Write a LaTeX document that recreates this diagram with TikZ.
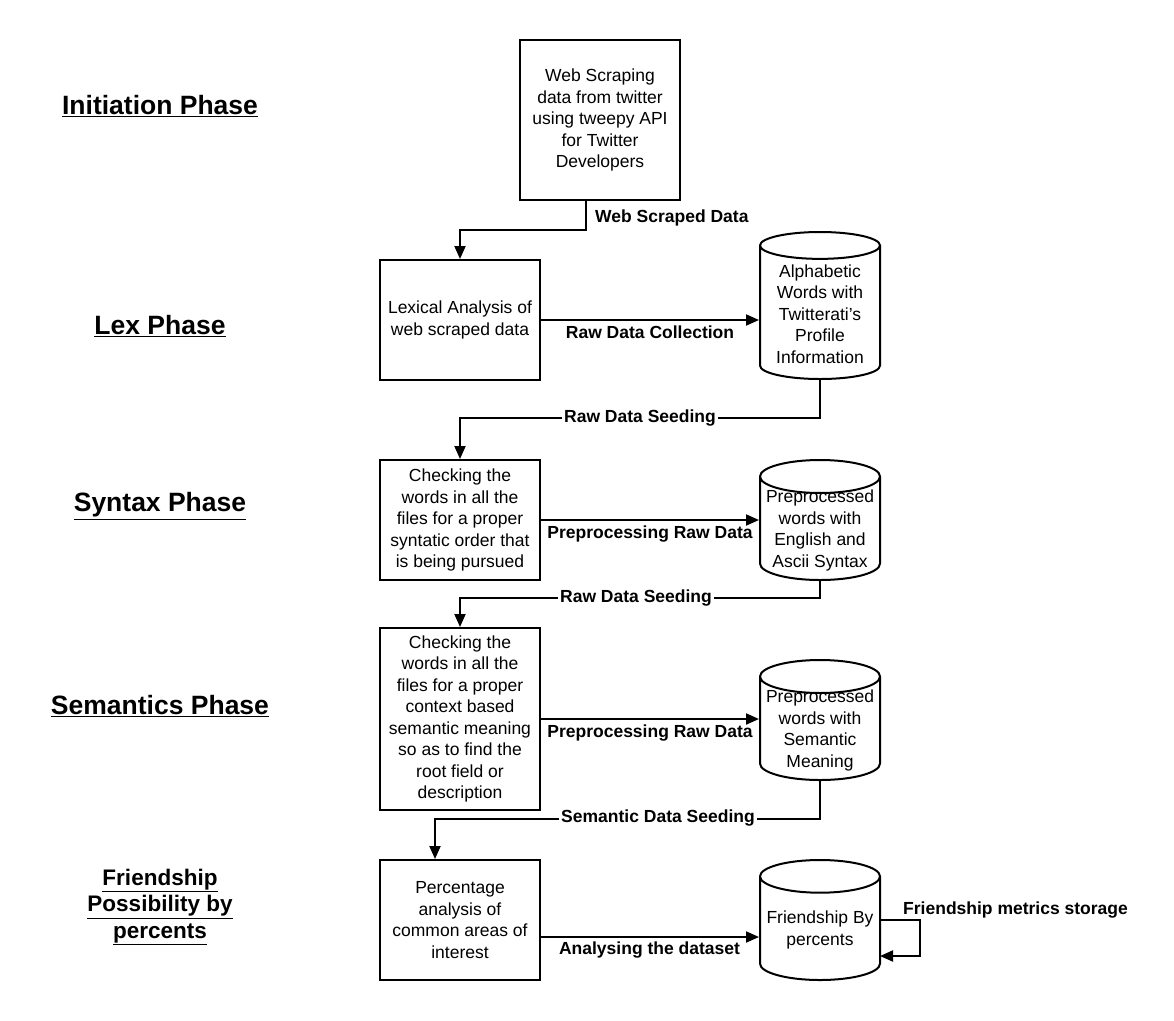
\documentclass[tikz,border=0pt]{standalone}
\usepackage{fontspec}
\setmainfont{Liberation Sans}
\usepackage{tikz}
\usetikzlibrary{arrows.meta,positioning,shapes.geometric}

\tikzset{
	box/.style={draw, line width=2pt, minimum width=160pt, minimum height=120pt, align=center, font=\fontsize{17.5}{21.5}\selectfont, inner sep=2pt},
	store/.style={draw, line width=2pt, cylinder, shape border rotate=90, aspect=0.3, minimum width=120pt, minimum height=147pt, anchor=shape center, align=center, font=\fontsize{17.5}{21.5}\selectfont, inner xsep=1pt, inner ysep=-30pt},
	phase/.style={font=\fontsize{26.5}{29}\selectfont\bfseries, align=center},
	flow/.style={line width=2pt, -{Triangle[length=13pt,width=11pt]}},
	lbl/.style={font=\fontsize{17.5}{20}\selectfont\bfseries, inner sep=2pt}
}

\begin{document}
\begin{tikzpicture}[x=1pt,y=-1pt]
	\useasboundingbox[fill=white] (0,0) rectangle (1174,1020);

	% phases
	\node[phase] (initiation) at (160,106) {\underline{Initiation Phase}};
	\node[phase] (lexph) at (160,326) {\underline{Lex Phase}};
	\node[phase] (syntaxph) at (160,506) {\underline{Syntax Phase}};
	\node[phase] (semph) at (160,706) {\underline{Semantics Phase}};
	\node[phase, font=\fontsize{22.5}{26.5}\selectfont\bfseries] (friendph) at (160,907)
		{\underline{Friendship}\\\underline{Possibility by}\\\underline{percents}};

	% processes
	\node[box, minimum height=160pt] (scrape) at (600,120)
		{Web Scraping\\data from twitter\\using tweepy API\\for Twitter\\Developers};
	\node[box] (lexical) at (460,320) {Lexical Analysis of\\web scraped data};
	\node[box] (syntax) at (460,520)
		{Checking the\\words in all the\\files for a proper\\syntatic order that\\is being pursued};
	\node[box, minimum height=182pt] (semantic) at (460,719)
		{Checking the\\words in all the\\files for a proper\\context based\\semantic meaning\\so as to find the\\root field or\\description};
	\node[box] (percent) at (460,920)
		{Percentage\\analysis of\\common areas of\\interest};

	% stores
	\node[store] (alpha) at (820,305.5)
		{Alphabetic\\Words with\\Twitterati's\\Profile\\Information};
	\node[store, minimum height=120pt] (prepsyn) at (820,520)
		{Preprocessed\\words with\\English and\\Ascii Syntax};
	\node[store, minimum height=120pt] (prepsem) at (820,720)
		{Preprocessed\\words with\\Semantic\\Meaning};
	\node[store, minimum height=120pt] (friends) at (820,920)
		{Friendship By\\percents};

	% \draw flows
	\coordinate (c1) at (586,230);
	\draw[flow] (scrape.south -| c1) -- (c1) -| (lexical.north);
	\node[lbl, anchor=west] (l1) at (593,218) {Web Scraped Data};

	\draw[flow] (lexical.east) -- (alpha.west |- lexical.east)
		node[lbl, midway, below=3pt] (l2) {Raw Data Collection};

	\coordinate (c2) at (820,418);
	\draw[flow] (alpha.south) -- (c2) -| (syntax.north);
	\node[lbl, fill=white] (l3) at (640,418) {Raw Data Seeding};

	\draw[flow] (syntax.east) -- (prepsyn.west |- syntax.east)
		node[lbl, midway, below=3pt] (l4) {Preprocessing Raw Data};

	\coordinate (c3) at (820,598);
	\draw[flow] (prepsyn.south) -- (c3) -| (semantic.north);
	\node[lbl, fill=white] (l5) at (636,598) {Raw Data Seeding};

	\draw[flow] (semantic.east) -- (prepsem.west |- semantic.east)
		node[lbl, midway, below=3pt] (l6) {Preprocessing Raw Data};

	\coordinate (c4) at (820,819);
	\coordinate (c5) at (435,819);
	\draw[flow] (prepsem.south) -- (c4) -- (c5) -- (c5 |- percent.north);
	\node[lbl, fill=white] (l7) at (658,818) {Semantic Data Seeding};

	\coordinate (c6) at (540,937);
	\draw[flow] (c6) -- (friends.west |- c6)
		node[lbl, midway, below=2pt] (l8) {Analysing the dataset};

	% \draw self loop
	\coordinate (s1) at (880,920);
	\coordinate (s2) at (920,920);
	\coordinate (s3) at (920,956);
	\coordinate (s4) at (880,956);
	\draw[flow] (s1) -- (s2) -- (s3) -- (s4);
	\node[lbl, anchor=west] (l9) at (901,910) {Friendship metrics storage};
\end{tikzpicture}
\end{document}
